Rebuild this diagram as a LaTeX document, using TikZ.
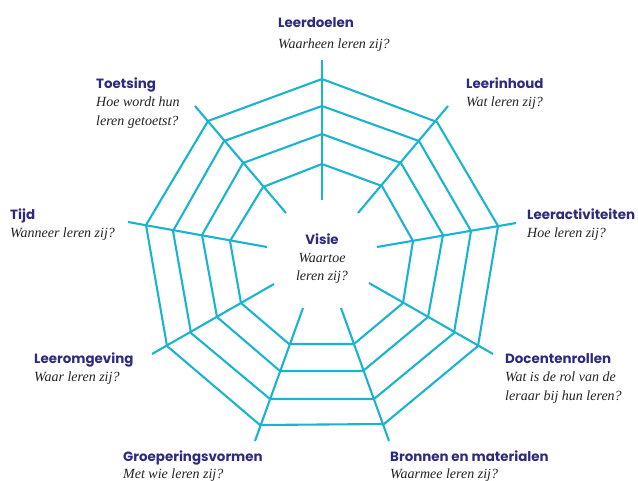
\documentclass[tikz,border=0pt]{standalone}
\usepackage{fontspec}
\setmainfont{Liberation Serif}
\newfontfamily\titlefont{Poppins}
\definecolor{web}{HTML}{1BB4CF}
\definecolor{ttl}{HTML}{2D2A80}
\definecolor{qtxt}{HTML}{222222}
\tikzset{
  webline/.style={draw=web, line width=2.1pt, line cap=butt, line join=miter},
  ttlnode/.style={anchor=base west, inner sep=0pt, text=ttl, font=\titlefont\bfseries\fontsize{13.4}{13.4}\selectfont},
  qnode/.style={anchor=base west, inner sep=0pt, text=qtxt, font=\itshape\fontsize{14}{14}\selectfont},
}
\begin{document}
\begin{tikzpicture}[x=1pt,y=-1pt]
\useasboundingbox (0,0) rectangle (638,480);
% spokes: tip, ring4 (outer), ring3, ring2, ring1 (inner), inner end
\foreach \i/\tx/\ty/\ax/\ay/\bx/\by/\cx/\cy/\dx/\dy/\ex/\ey in {
 1/322/60/322/79/322/106/322/134/322/164/322/200,
 2/448/106/437/122/419/141/401/163/382/186/358/213,
 3/516/223/498/226/471/231/443/235/413/241/377/247,
 4/493/354/478/346/454/333/428/317/403/303/369/283,
 5/389/441/384/424/374/399/363/371/354/344/341/308,
 6/255/441/260/425/270/399/280/371/289/344/303/308,
 7/152/354/167/346/191/333/217/317/241/303/274/284,
 8/128/222/146/225/173/231/202/235/230/241/267/247,
 9/195/106/208/121/224/141/243/163/263/187/286/213}{
  \coordinate (s\i-t) at (\tx,\ty);
  \coordinate (s\i-4) at (\ax,\ay);
  \coordinate (s\i-3) at (\bx,\by);
  \coordinate (s\i-2) at (\cx,\cy);
  \coordinate (s\i-1) at (\dx,\dy);
  \coordinate (s\i-e) at (\ex,\ey);
}
\foreach \i in {1,...,9}{
  \draw[webline] (s\i-t) -- (s\i-e);
}
\foreach \r in {1,2,3,4}{
  \draw[webline] (s1-\r) -- (s2-\r) -- (s3-\r) -- (s4-\r) -- (s5-\r) -- (s6-\r) -- (s7-\r) -- (s8-\r) -- (s9-\r) -- cycle;
}
% labels
\node[ttlnode] (t1) at (278,27) {Leerdoelen};
\node[qnode] (q1) at (278,48) {Waarheen leren zij?};
\node[ttlnode] (t2) at (466,88) {Leerinhoud};
\node[qnode] (q2) at (466,106) {Wat leren zij?};
\node[ttlnode] (t3) at (527,219) {Leeractiviteiten};
\node[qnode] (q3) at (527,237) {Hoe leren zij?};
\node[ttlnode] (t4) at (505,363) {Docentenrollen};
\node[qnode] (q4a) at (505,381) {Wat is de rol van de};
\node[qnode] (q4b) at (505,400) {leraar bij hun leren?};
\node[ttlnode] (t5) at (390,461) {Bronnen en materialen};
\node[qnode] (q5) at (390,478) {Waarmee leren zij?};
\node[ttlnode] (t6) at (123,461) {Groeperingsvormen};
\node[qnode] (q6) at (123,478) {Met wie leren zij?};
\node[ttlnode] (t7) at (34,363) {Leeromgeving};
\node[qnode] (q7) at (34,381) {Waar leren zij?};
\node[ttlnode] (t8) at (10,219) {Tijd};
\node[qnode] (q8) at (10,237) {Wanneer leren zij?};
\node[ttlnode] (t9) at (96,88) {Toetsing};
\node[qnode] (q9a) at (96,106) {Hoe wordt hun};
\node[qnode] (q9b) at (96,125) {leren getoetst?};
\node[ttlnode, anchor=base] (tv) at (322,244) {Visie};
\node[qnode, anchor=base] (qva) at (322,262) {Waartoe};
\node[qnode, anchor=base] (qvb) at (322,280) {leren zij?};
\end{tikzpicture}
\end{document}
